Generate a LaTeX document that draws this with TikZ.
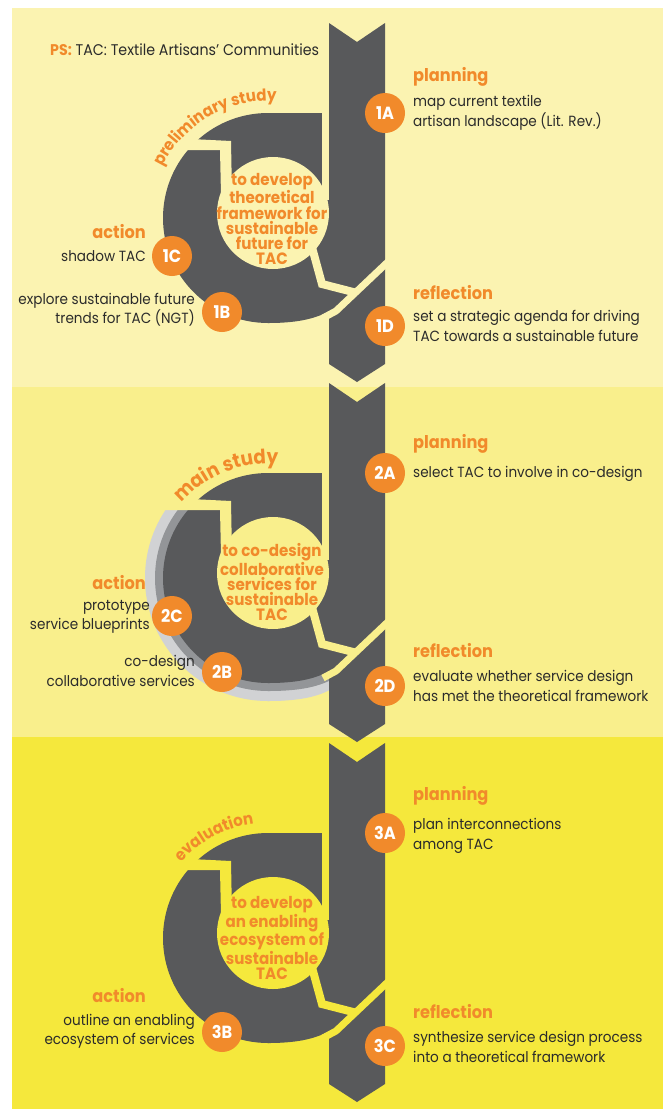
\documentclass[tikz,border=0pt]{standalone}
\usepackage{fontspec}
\setmainfont{Poppins}[FakeStretch=0.92]
\usetikzlibrary{decorations.text}

\definecolor{bandone}{HTML}{FBF3B1}
\definecolor{bandtwo}{HTML}{F9EF8C}
\definecolor{bandthree}{HTML}{F5E83C}
\definecolor{darkgrey}{HTML}{58595B}
\definecolor{tacorange}{HTML}{F18A2B}
\definecolor{textgrey}{HTML}{2B2B2B}
\definecolor{halolight}{HTML}{D1D2D4}
\definecolor{halomid}{HTML}{939598}

\begin{document}
\begin{tikzpicture}[x=0.03cm,y=0.03cm]

\tikzset{
  badge/.style={circle,fill=tacorange,text=white,inner sep=0pt,minimum size=1.2cm,
                font=\fontsize{15}{15}\selectfont\bfseries},
  phase/.style={text=tacorange,inner sep=0pt,font=\fontsize{15}{16}\selectfont\bfseries},
  task/.style={text=textgrey,inner sep=0pt,align=left,font=\fontsize{12.6}{16.6}\selectfont},
  taskleft/.style={task,align=right},
  goal/.style={text=tacorange,inner sep=0pt,align=center,
               font=\fontsize{14}{13}\selectfont\bfseries},
  gap/.style={line width=0.24cm},
  slit/.style={line width=0.21cm},
}

\useasboundingbox (0,0) rectangle (663,-1109);

% Background bands
\fill[bandone]   (12,-8)   rectangle (663,-387);
\fill[bandtwo]   (12,-387) rectangle (663,-737);
\fill[bandthree] (12,-737) rectangle (663,-1109);

% Grey halo behind the second cycle
\begin{scope}
  \clip (0,-510) rectangle (329,-720);
  \fill[halolight] (268,-578) circle (123);
  \fill[halolight] (268,-578) -- (268,-701) .. controls (305,-701) and (322,-695)
                   .. (335,-687) -- (335,-578) -- cycle;
  \fill[halomid]   (268,-578) circle (113);
  \fill[halomid]   (268,-578) -- (268,-691) .. controls (303,-691) and (320,-686)
                   .. (335,-678) -- (335,-578) -- cycle;
\end{scope}

% The three cycles: ring, stem, and the cuts between segments
\foreach \oy/\band in {0/bandone,360/bandtwo,720/bandthree}{
  \begin{scope}[shift={(0,-\oy)}]
    \fill[darkgrey] (268,-218) circle (105);
    \fill[darkgrey] (268,-113) rectangle (329,-218);
    \fill[darkgrey] (268,-218) -- (268,-323) .. controls (300,-323) and (318,-318)
                    .. (333,-309) -- (333,-218) -- cycle;
    \fill[darkgrey] (329,-23) -- (357,-42) -- (385,-23) -- (385,-364)
                    -- (357,-382) -- (329,-364) -- cycle;
    \fill[\band] (273,-213) circle (56);
    % stepped cut, top left
    \fill[\band] (150,-137) -- (231,-141) -- (232,-195) -- (221,-195)
                 -- (220,-150) -- (150,-150) -- cycle;
    % slit between top segment and stem
    \fill[\band] (322,-100) rectangle (329,-200);
    % cuts at the bottom right
    \draw[\band,gap] (310,-240) -- (322,-284) -- (357,-293);
    \draw[\band,slit] (323,-318) .. controls (329,-315) .. (336,-311) -- (392,-258);
  \end{scope}
}

% Curved stage names
\path[decorate,decoration={text along path,text align=center,text color=tacorange,
      text={|\fontsize{14}{14}\selectfont\bfseries|preliminary study}}]
      (268,-218) ++(165:117) arc[start angle=165,end angle=75,radius=117];
\path[decorate,decoration={text along path,text align=center,text color=tacorange,
      text={|\fontsize{17}{17}\selectfont\bfseries|main study}}]
      (268,-578) ++(160:114) arc[start angle=160,end angle=64,radius=114];
\path[decorate,decoration={text along path,text align=center,text color=tacorange,
      text={|\fontsize{14}{14}\selectfont\bfseries|evaluation}}]
      (268,-938) ++(163:115) arc[start angle=163,end angle=73,radius=115];

% Note
\node[anchor=west,text=textgrey,inner sep=0pt,font=\fontsize{13.2}{16}\selectfont] (note)
     at (50,-50) {\textcolor{tacorange}{\bfseries PS:} TAC: Textile Artisans’ Communities};

% Goals
\node[goal] (goalone)   at (272,-219) {to develop\\theoretical\\framework for\\sustainable\\future for\\TAC};
\node[goal] (goaltwo)   at (272,-582) {to co-design\\collaborative\\services for\\sustainable\\TAC};
\node[goal] (goalthree) at (272,-938) {to develop\\an enabling\\ecosystem of\\sustainable\\TAC};

% Badges
\node[badge] (oneA) at (385,-113) {1A};
\node[badge] (oneB) at (222,-312) {1B};
\node[badge] (oneC) at (172,-256) {1C};
\node[badge] (oneD) at (385,-326) {1D};
\node[badge] (twoA) at (385,-473) {2A};
\node[badge] (twoB) at (222,-672) {2B};
\node[badge] (twoC) at (172,-616) {2C};
\node[badge] (twoD) at (385,-686) {2D};
\node[badge] (threeA) at (385,-833) {3A};
\node[badge] (threeB) at (222,-1032) {3B};
\node[badge] (threeC) at (385,-1046) {3C};

% First cycle texts
\node[phase,anchor=west] (planone) at (413,-77) {planning};
\node[task,anchor=west]  (taskoneA) at (413,-113) {map current textile\\artisan landscape (Lit. Rev.)};
\node[phase,anchor=west] (reflone) at (413,-293) {reflection};
\node[task,anchor=west]  (taskoneD) at (413,-326) {set a strategic agenda for driving\\TAC towards a sustainable future};
\node[phase,anchor=east] (actone) at (146,-232) {action};
\node[taskleft,anchor=east] (taskoneC) at (146,-256) {shadow TAC};
\node[taskleft,anchor=east] (taskoneB) at (195,-310) {explore sustainable future\\trends for TAC (NGT)};

% Second cycle texts
\node[phase,anchor=west] (plantwo) at (413,-444) {planning};
\node[task,anchor=west]  (tasktwoA) at (413,-474) {select TAC to involve in co-design};
\node[phase,anchor=west] (refltwo) at (413,-651) {reflection};
\node[task,anchor=west]  (tasktwoD) at (413,-686) {evaluate whether service design\\has met the theoretical framework};
\node[phase,anchor=east] (acttwo) at (146,-583) {action};
\node[taskleft,anchor=east] (tasktwoC) at (150,-617) {prototype\\service blueprints};
\node[taskleft,anchor=east] (tasktwoB) at (195,-671) {co-design\\collaborative services};

% Third cycle texts
\node[phase,anchor=west] (planthree) at (413,-796) {planning};
\node[task,anchor=west]  (taskthreeA) at (413,-836) {plan interconnections\\among TAC};
\node[phase,anchor=west] (reflthree) at (413,-1012) {reflection};
\node[task,anchor=west]  (taskthreeC) at (413,-1047) {synthesize service design process\\into a theoretical framework};
\node[phase,anchor=east] (actthree) at (146,-996) {action};
\node[taskleft,anchor=east] (taskthreeB) at (195,-1031) {outline an enabling\\ecosystem of services};

\end{tikzpicture}
\end{document}
